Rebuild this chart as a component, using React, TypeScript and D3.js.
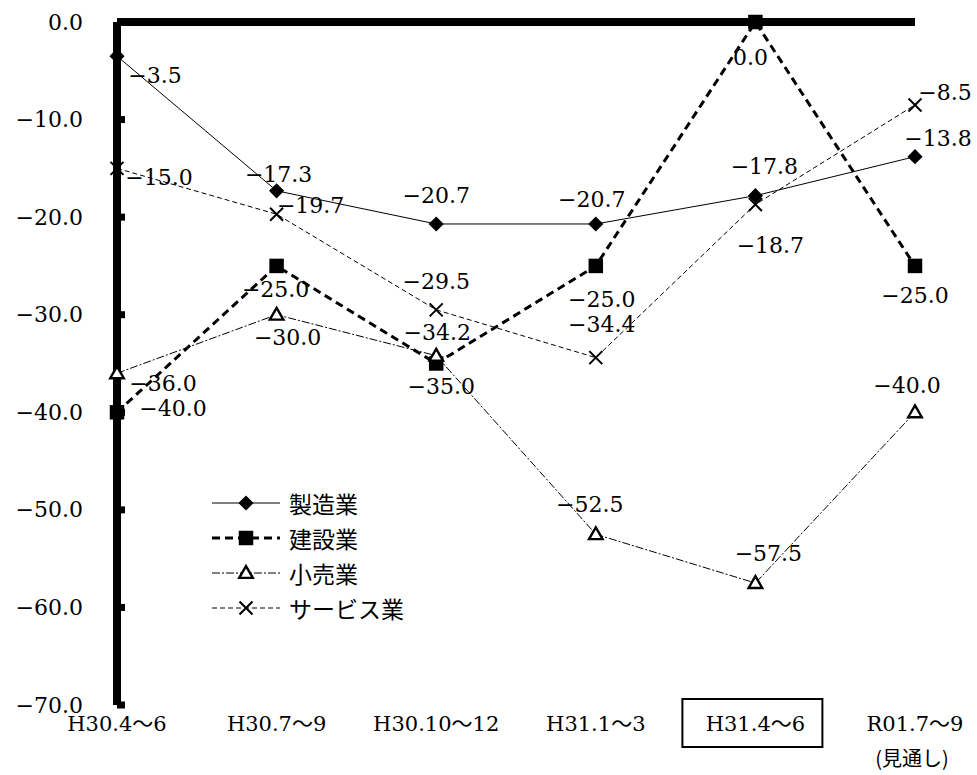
import React, { useEffect, useRef } from "react";
import * as d3 from "d3";

const categories = ["H30.4〜6", "H30.7〜9", "H30.10〜12", "H31.1〜3", "H31.4〜6", "R01.7〜9"];
const seriesNames = ["製造業", "建設業", "小売業", "サービス業"];
const manufacturing = [-3.5, -17.3, -20.7, -20.7, -17.8, -13.8];
const construction = [-40.0, -25.0, -35.0, -25.0, 0.0, -25.0];
const retail = [-36.0, -30.0, -34.2, -52.5, -57.5, -40.0];
const services = [-15.0, -19.7, -29.5, -34.4, -18.7, -8.5];
const yTicks = [0, -10, -20, -30, -40, -50, -60, -70];

// where each data label sits relative to its point (dx, dy)
const labelOffsets = [
    [[38, 19], [2, -16], [0, -28], [-4, -24], [9, -29], [23, -18]],
    [[56, -4], [-1, 24], [5, 23], [6, 34], [-5, 35], [0, 30]],
    [[46, 10], [11, 23], [1, -23], [-6, -30], [13, -30], [-8, -27]],
    [[42, 9], [34, -9], [0, -28], [6, -33], [15, 41], [30, -12]],
];

const styles = [
    { width: 1, dash: null, marker: "diamond" },
    { width: 3, dash: "8,5", marker: "square" },
    { width: 1, dash: "8,2,2,2", marker: "triangle" },
    { width: 1, dash: "5,3", marker: "cross" },
];

const numFont = "'DejaVu Serif', 'Noto Sans CJK JP', serif";
const jpFont = "'Noto Sans CJK JP', sans-serif";

const App = () => {
    const svgRef = useRef(null);

    useEffect(() => {
        const svg = d3.select(svgRef.current);
        svg.selectAll("*").remove();

        const width = 977;
        const height = 775;
        svg.attr("width", width).attr("height", height);

        const x = d3.scalePoint().domain(categories).range([117, 915]);
        const y = d3.scaleLinear().domain([-70, 0]).range([705, 22]);
        const fmt = d3.format(".1f");

        const allSeries = [manufacturing, construction, retail, services];

        const drawMarker = (g, kind, cx, cy) => {
            if (kind === "diamond") {
                g.append("path")
                    .attr("d", d3.symbol(d3.symbolSquare, 115)())
                    .attr("transform", `translate(${cx},${cy}) rotate(45)`)
                    .attr("fill", "#000");
            } else if (kind === "square") {
                g.append("path")
                    .attr("d", d3.symbol(d3.symbolSquare, 210)())
                    .attr("transform", `translate(${cx},${cy})`)
                    .attr("fill", "#000");
            } else if (kind === "triangle") {
                g.append("path")
                    .attr("d", d3.symbol(d3.symbolTriangle, 80)())
                    .attr("transform", `translate(${cx},${cy + 1})`)
                    .attr("fill", "#fff")
                    .attr("stroke", "#000")
                    .attr("stroke-width", 2.4);
            } else {
                g.append("path")
                    .attr("d", d3.symbol(d3.symbolX, 112)())
                    .attr("transform", `translate(${cx},${cy})`)
                    .attr("fill", "none")
                    .attr("stroke", "#000")
                    .attr("stroke-width", 2);
            }
        };

        // axis frame: thick left axis and thick top (zero) line
        svg.append("line")
            .attr("x1", x(categories[0])).attr("x2", x(categories[categories.length - 1]))
            .attr("y1", y(0)).attr("y2", y(0))
            .attr("stroke", "#000").attr("stroke-width", 8);
        svg.append("line")
            .attr("x1", x(categories[0])).attr("x2", x(categories[0]))
            .attr("y1", y(0)).attr("y2", y(-70))
            .attr("stroke", "#000").attr("stroke-width", 8);

        yTicks.forEach(t => {
            svg.append("line")
                .attr("x1", x(categories[0])).attr("x2", x(categories[0]) + 8)
                .attr("y1", y(t)).attr("y2", y(t))
                .attr("stroke", "#000").attr("stroke-width", 7);
            svg.append("text")
                .attr("x", 83)
                .attr("y", y(t))
                .attr("text-anchor", "end")
                .attr("dominant-baseline", "central")
                .style("font-family", numFont)
                .style("font-size", "22px")
                .text(fmt(t));
        });

        // x labels
        categories.forEach((c, i) => {
            svg.append("text")
                .attr("x", x(c))
                .attr("y", 724)
                .attr("text-anchor", "middle")
                .attr("dominant-baseline", "central")
                .style("font-family", numFont)
                .style("font-size", "21px")
                .text(c);
            if (i === categories.length - 1) {
                svg.append("text")
                    .attr("x", x(c) - 3)
                    .attr("y", 757)
                    .attr("text-anchor", "middle")
                    .attr("dominant-baseline", "central")
                    .style("font-family", jpFont)
                    .style("font-size", "20px")
                    .text("(見通し)");
            }
        });
        svg.append("rect")
            .attr("x", x("H31.4〜6") - 73)
            .attr("y", 699)
            .attr("width", 140)
            .attr("height", 48)
            .attr("fill", "none")
            .attr("stroke", "#000")
            .attr("stroke-width", 2);

        // lines and markers
        const line = d3.line().x((d, i) => x(categories[i])).y(d => y(d));
        allSeries.forEach((values, s) => {
            const st = styles[s];
            svg.append("path")
                .attr("d", line(values))
                .attr("fill", "none")
                .attr("stroke", "#000")
                .attr("stroke-width", st.width)
                .attr("stroke-dasharray", st.dash);
            const g = svg.append("g");
            values.forEach((v, i) => drawMarker(g, st.marker, x(categories[i]), y(v)));
        });

        // data labels
        allSeries.forEach((values, s) => {
            values.forEach((v, i) => {
                const [dx, dy] = labelOffsets[s][i];
                svg.append("text")
                    .attr("x", x(categories[i]) + dx)
                    .attr("y", y(v) + dy)
                    .attr("text-anchor", "middle")
                    .attr("dominant-baseline", "central")
                    .style("font-family", numFont)
                    .style("font-size", "22px")
                    .text(fmt(v));
            });
        });

        // legend
        const legendY = [503, 538, 573, 608];
        seriesNames.forEach((name, s) => {
            const st = styles[s];
            const ly = legendY[s];
            svg.append("line")
                .attr("x1", 212).attr("x2", 280)
                .attr("y1", ly).attr("y2", ly)
                .attr("stroke", "#000")
                .attr("stroke-width", st.width)
                .attr("stroke-dasharray", st.dash);
            drawMarker(svg.append("g"), st.marker, 246, ly);
            svg.append("text")
                .attr("x", 289)
                .attr("y", ly)
                .attr("dominant-baseline", "central")
                .style("font-family", jpFont)
                .style("font-size", "23px")
                .text(name);
        });
    }, []);

    return (
        <div style={{ position: "absolute", left: 0, top: 0, width: 977, height: 775, background: "white" }}>
            <svg ref={svgRef} style={{ display: "block" }} />
        </div>
    );
};

export default App;
